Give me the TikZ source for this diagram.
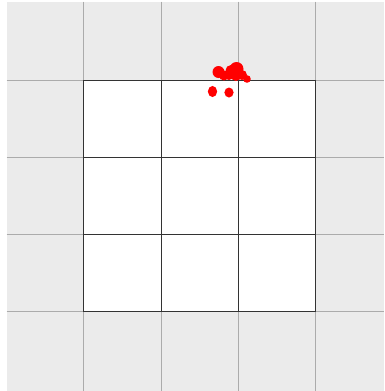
\documentclass[tikz,border=0pt]{standalone}
\begin{document}
\begin{tikzpicture}[x=1pt,y=-1pt,
  outerline/.style={draw=black!33,line width=1pt},
  innerline/.style={draw=black!80,line width=0.8pt},
  reddot/.style={fill=red}]
\useasboundingbox (0,0) rectangle (384,391);
\fill[black!8] (6.5,1.5) rectangle (384,391);
\foreach \x in {83.5,161,238.5,315.5} \draw[outerline] (\x,1.5) -- (\x,391);
\foreach \y in {80,157.5,234.5,311.5} \draw[outerline] (6.5,\y) -- (384,\y);
\fill[white] (83.5,80) rectangle (315.5,311.5);
\foreach \x in {83.5,161,238.5,315.5} \draw[innerline] (\x,80) -- (\x,311.5);
\foreach \y in {80,157.5,234.5,311.5} \draw[innerline] (83.5,\y) -- (315.5,\y);
% red marks
\fill[reddot] (218.5,72) circle (6pt);
\fill[reddot] (224,75.5) circle (5pt);
\fill[reddot] (229,75) circle (5pt);
\fill[reddot] (231,70.5) circle (5.5pt);
\fill[reddot] (236.5,69) circle (7pt);
\fill[reddot] (242,75) circle (5pt);
\fill[reddot] (236,76) circle (5pt);
\fill[reddot] (247,79) circle (3.8pt);
\fill[reddot] (212.5,91.5) ellipse (4.6pt and 5.6pt);
\fill[reddot] (229,92.5) ellipse (4.6pt and 5pt);
\end{tikzpicture}
\end{document}
